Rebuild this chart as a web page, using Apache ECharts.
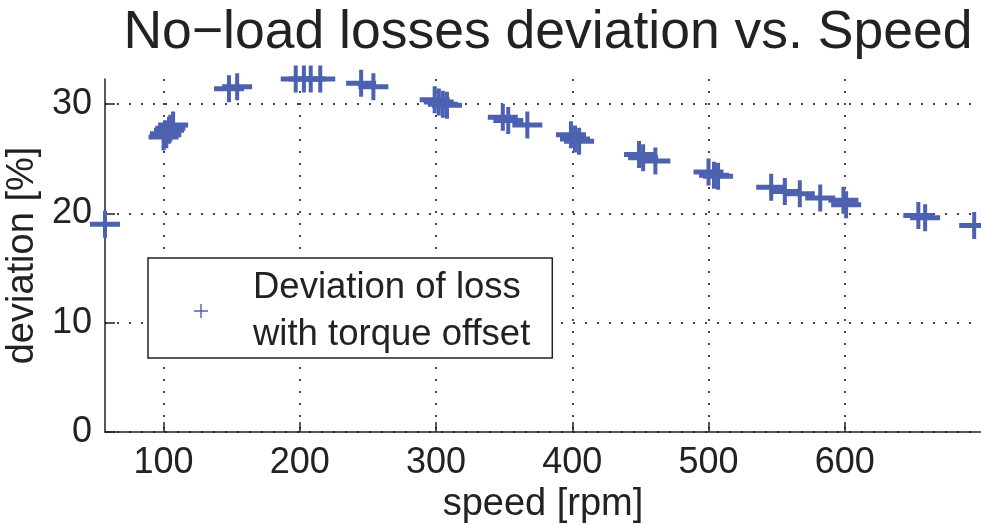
<!DOCTYPE html>
<html>
<head>
<meta charset="utf-8">
<script src="https://cdn.jsdelivr.net/npm/echarts@6/dist/echarts.min.js"></script>
<style>
  html, body { margin: 0; padding: 0; background: #fff; }
  #chart { width: 981px; height: 525px; }
</style>
</head>
<body>
<div id="chart"></div>
<script>
// measured points (speed in rpm, deviation in %)
const speed = [57, 100, 101, 102, 104, 105, 107, 148, 154, 197, 203, 208, 215, 245, 254,
  299, 302, 305, 308, 349, 353, 367, 399, 402, 405, 449, 452, 461, 500, 504, 507,
  546, 556, 567, 582, 599, 601, 654, 659, 695];
const deviation = [19.0, 27.0, 27.3, 27.2, 27.6, 27.8, 28.1, 31.4, 31.6, 32.3, 32.3, 32.3, 32.3, 31.9, 31.6,
  30.4, 30.2, 30.0, 29.9, 28.8, 28.5, 28.1, 27.2, 26.8, 26.6, 25.4, 25.1, 24.8, 23.8, 23.5, 23.4,
  22.4, 22.0, 21.8, 21.4, 21.2, 20.8, 19.8, 19.6, 18.9];
const xTicks = [100, 200, 300, 400, 500, 600];
const yTicks = [0, 10, 20, 30];

const seriesName = 'Deviation of loss\nwith torque offset';
const blue = '#4c61b0';
const font = '"Liberation Sans", Arial, sans-serif';

const plusBig = 'path://M0,11H30V16H0Z M13,0H17V27H13Z';
const plusThin = 'path://M0,6.3H14V7.7H0Z M6.3,0H7.7V14H6.3Z';

const gridLine = {
  show: true,
  lineStyle: { color: '#444', width: 2, type: [2, 10] }
};

const chart = echarts.init(document.getElementById('chart'));
chart.setOption({
  animation: false,
  title: {
    text: 'No\u2212load losses deviation vs. Speed',
    left: 543,
    textAlign: 'center',
    top: 1,
    textStyle: { fontFamily: font, fontSize: 53.5, fontWeight: 'normal', color: '#222' }
  },
  grid: { left: 105, right: 0, top: 79, bottom: 93, containLabel: false, outerBoundsMode: 'none' },
  legend: {
    left: 148,
    top: 258,
    orient: 'vertical',
    data: [{ name: seriesName, icon: plusThin }],
    itemWidth: 94,
    itemHeight: 14,
    padding: [6, 22, 0, 46],
    borderColor: '#222',
    borderWidth: 1.5,
    backgroundColor: '#fff',
    textStyle: { fontFamily: font, fontSize: 36.5, lineHeight: 47, color: '#222' }
  },
  xAxis: {
    type: 'value',
    min: 57,
    max: 700,
    name: 'speed [rpm]',
    nameLocation: 'middle',
    nameGap: 46,
    nameTextStyle: { fontFamily: font, fontSize: 38, color: '#222' },
    axisLine: { show: true, lineStyle: { color: '#222', width: 1.5 } },
    axisTick: { show: true, inside: true, length: 10, customValues: xTicks, lineStyle: { color: '#222', width: 1.5 } },
    axisLabel: { customValues: xTicks, fontFamily: font, fontSize: 36, color: '#222', margin: 13 },
    splitLine: gridLine
  },
  yAxis: {
    type: 'value',
    min: 0,
    max: 32.3,
    name: 'deviation [%]',
    nameLocation: 'middle',
    nameGap: 61,
    nameTextStyle: { fontFamily: font, fontSize: 38, color: '#222' },
    axisLine: { show: true, lineStyle: { color: '#222', width: 1.5 } },
    axisTick: { show: true, inside: true, length: 10, customValues: yTicks, lineStyle: { color: '#222', width: 1.5 } },
    axisLabel: { customValues: yTicks, fontFamily: font, fontSize: 36, color: '#222', margin: 13 },
    splitLine: gridLine
  },
  series: [{
    name: seriesName,
    type: 'scatter',
    symbol: plusBig,
    symbolSize: [30, 27],
    clip: false,
    itemStyle: { color: blue, opacity: 1 },
    data: speed.map((s, i) => [s, deviation[i]])
  }]
});
</script>
</body>
</html>
